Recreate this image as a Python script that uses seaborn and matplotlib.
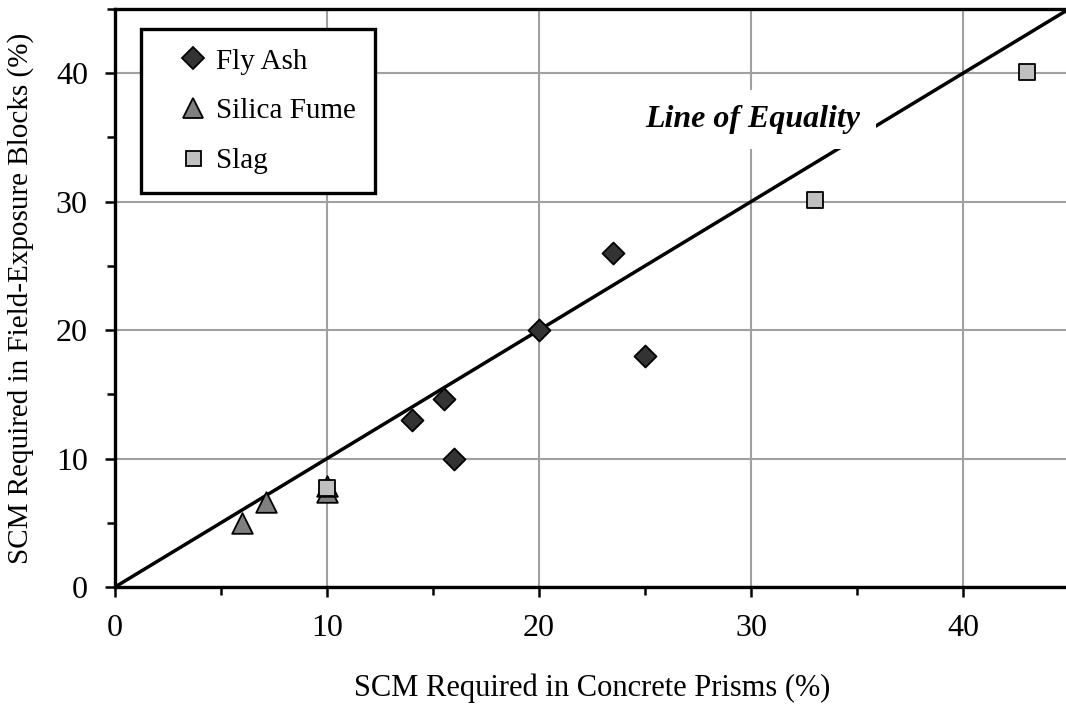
import matplotlib
matplotlib.use("Agg")
import matplotlib.pyplot as plt
import seaborn as sns
import pandas as pd
from matplotlib.ticker import MultipleLocator
from matplotlib.lines import Line2D

# Data
fly_ash_x = [14.0, 15.5, 16.0, 20.0, 23.5, 25.0]
fly_ash_y = [13.0, 14.6, 10.0, 20.0, 26.0, 18.0]
silica_x = [6.0, 7.1, 10.0, 10.0]
silica_y = [5.0, 6.6, 7.4, 7.9]
slag_x = [10.0, 33.0, 43.0]
slag_y = [7.7, 30.1, 40.1]
equality_x = [0, 45]
equality_y = [0, 45]
series_names = ["Fly Ash", "Silica Fume", "Slag"]

sns.set_theme(style="white")
plt.rcParams['font.family'] = ['Liberation Serif', 'DejaVu Serif']
plt.rcParams['text.color'] = 'black'
plt.rcParams['axes.labelcolor'] = 'black'
plt.rcParams['xtick.color'] = 'black'
plt.rcParams['ytick.color'] = 'black'

fig = plt.figure(figsize=(10.66, 7.11), dpi=100)
ax = fig.add_axes([115/1066, 1-587/711, 954/1066, 578/711])

ax.set_xlim(0, 45)
ax.set_ylim(0, 45)
ax.xaxis.set_major_locator(MultipleLocator(10))
ax.yaxis.set_major_locator(MultipleLocator(10))
ax.xaxis.set_minor_locator(MultipleLocator(5))
ax.yaxis.set_minor_locator(MultipleLocator(5))
ax.grid(True, which='major', color='#a0a0a0', linewidth=1.5, zorder=0)
ax.set_axisbelow(True)

for s in ax.spines.values():
    s.set_color('black')
    s.set_linewidth(2.4)
    s.set_visible(True)

ax.tick_params(axis='both', which='major', direction='out', length=7.5, width=1.8,
               color='black', labelcolor='black', labelsize=23, pad=12, bottom=True, left=True)
ax.tick_params(axis='both', which='minor', direction='out', length=6, width=1.8,
               color='black', bottom=True, left=True)

# line of equality
sns.lineplot(x=equality_x, y=equality_y, ax=ax, color='black', linewidth=2.5, zorder=2)

df_fa = pd.DataFrame({"x": fly_ash_x, "y": fly_ash_y})
df_sf = pd.DataFrame({"x": silica_x, "y": silica_y})
df_sl = pd.DataFrame({"x": slag_x, "y": slag_y})

sns.scatterplot(data=df_sf, x="x", y="y", ax=ax, marker='^', s=220, color='#808080',
                edgecolor='black', linewidth=1.3, zorder=3)
sns.scatterplot(data=df_fa, x="x", y="y", ax=ax, marker='D', s=125, color='#333333',
                edgecolor='black', linewidth=1.3, zorder=3)
sns.scatterplot(data=df_sl, x="x", y="y", ax=ax, marker='s', s=117, color='#c0c0c0',
                edgecolor='black', linewidth=1.3, zorder=4)

ax.text(30.1, 36.4, "Line of Equality", fontsize=23, fontweight='bold', fontstyle='italic',
        ha='center', va='center', zorder=5, color='black',
        bbox=dict(facecolor='white', edgecolor='none', pad=11))

ax.set_xlabel("SCM Required in Concrete Prisms (%)", fontsize=22, labelpad=22, color='black')
ax.set_ylabel("SCM Required in Field-Exposure Blocks (%)", fontsize=21, labelpad=16, color='black')

handles = [
    Line2D([], [], marker='D', linestyle='none', markersize=10.7, markerfacecolor='#333333',
           markeredgecolor='black', markeredgewidth=1.3),
    Line2D([], [], marker='^', linestyle='none', markersize=14.4, markerfacecolor='#808080',
           markeredgecolor='black', markeredgewidth=1.3),
    Line2D([], [], marker='s', linestyle='none', markersize=10.8, markerfacecolor='#c0c0c0',
           markeredgecolor='black', markeredgewidth=1.3),
]
leg = ax.legend(handles, series_names, loc='upper left', bbox_to_anchor=(0.0273, 0.965),
                fontsize=21, frameon=True, fancybox=False, framealpha=1,
                handlelength=2.24, handletextpad=-0.33, labelspacing=0.8, borderpad=0.65,
                borderaxespad=0, labelcolor='black')
leg.get_frame().set_edgecolor('black')
leg.get_frame().set_linewidth(2.4)

fig.savefig("out.png", dpi=100)
